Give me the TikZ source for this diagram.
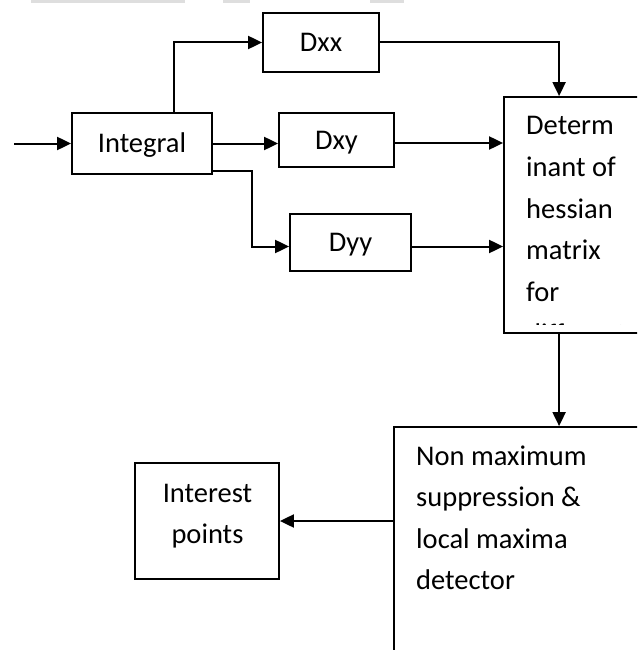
\documentclass[tikz,border=0pt]{standalone}
\usepackage{fontspec}
\setmainfont{Carlito}
\usetikzlibrary{arrows.meta}
\begin{document}
\begin{tikzpicture}[x=1pt,y=-1pt,
  box/.style={draw=black,line width=1.8pt,inner sep=0pt,text height=18.5pt,text depth=0pt,font=\fontsize{28.5}{28}\selectfont},
  arr/.style={line width=2pt,-{Triangle[length=14pt,width=13pt]}},
  txt/.style={anchor=base west,inner sep=0pt,font=\fontsize{28.5}{28}\selectfont},
  txtc/.style={anchor=base,inner sep=0pt,font=\fontsize{28.5}{28}\selectfont}]
\clip (0,0) rectangle (637,650);
\fill[white] (0,0) rectangle (637,650);
% faint bars at top edge
\fill[black!13] (31,0) rectangle (185,3);
\fill[black!13] (223,0) rectangle (250,3);
\fill[black!13] (370,0) rectangle (404,3);
% boxes
\node[box,minimum width=140pt,minimum height=61pt] (int) at (142,143.5) {Integral};
\node[box,minimum width=116pt,minimum height=59pt] (dxx) at (321,42.5) {Dxx};
\node[box,minimum width=115pt,minimum height=54pt] (dxy) at (336.5,140) {Dxy};
\node[box,minimum width=121pt,minimum height=57pt] (dyy) at (350.5,242.5) {Dyy};
\node[box,minimum width=200pt,minimum height=236pt] (det) at (604,215) {};
\node[box,minimum width=300pt,minimum height=260pt] (nms) at (544,557) {};
\node[box,minimum width=144pt,minimum height=116pt] (ip) at (207,521) {};
% text of the tall boxes
\begin{scope}
\clip (506,99) rectangle (637,324.5);
\node[txt] (d1) at (526,135) {Determ};
\node[txt] (d2) at (526,176.5) {inant of};
\node[txt] (d3) at (526,218) {hessian};
\node[txt] (d4) at (526,259.5) {matrix};
\node[txt] (d5) at (526,301) {for};
\node[txt] (d6) at (526,343) {different};
\end{scope}
\node[txt] (n1) at (416,465) {Non maximum};
\node[txt] (n2) at (416,506.5) {suppression \&};
\node[txt] (n3) at (416,548) {local maxima};
\node[txt] (n4) at (416,589.5) {detector};
\node[txtc] (i1) at (207.5,502) {Interest};
\node[txtc] (i2) at (207.5,543) {points};
% connectors
\coordinate (in) at (14,143.5);
\draw[arr] (in) -- (int.west);
\draw[arr] ([xshift=103pt]int.north west) |- (dxx.west);
\draw[arr] (int.east) -- (int.east -| dxy.west);
\draw[arr] ([yshift=4pt]int.south east) -- ++(39,0) |- ([yshift=-4pt]dyy.west);
\draw[arr] (dxx.east) -| ([xshift=56pt]det.north west);
\draw[arr] ([yshift=-3pt]dxy.east) -- ([yshift=-3pt]dxy.east -| det.west);
\draw[arr] ([yshift=-4pt]dyy.east) -- ([yshift=-4pt]dyy.east -| det.west);
\draw[arr] ([xshift=56pt]det.south west) -- ([xshift=166pt]nms.north west);
\draw[arr] (ip.east -| nms.west) -- (ip.east);
\end{tikzpicture}
\end{document}
